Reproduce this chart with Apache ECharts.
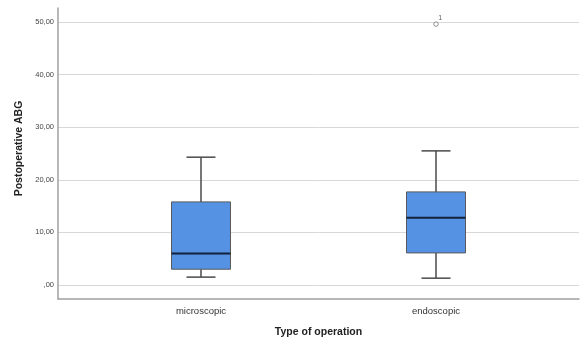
<!DOCTYPE html>
<html>
<head>
<meta charset="utf-8">
<script src="https://cdn.jsdelivr.net/npm/echarts@6/dist/echarts.min.js"></script>
<style>html,body{margin:0;padding:0;background:#fff;}#c{width:580px;height:338px;}</style>
</head>
<body>
<div id="c"></div>
<script>
var categories = ['microscopic', 'endoscopic'];
// [min whisker, Q1, median, Q3, max whisker]
var microscopicBox = [1.5, 3.0, 6.0, 15.8, 24.3];
var endoscopicBox = [1.3, 6.1, 12.8, 17.7, 25.5];
var outliers = [[1, 49.6, '1']];
var yTicks = [0, 10, 20, 30, 40, 50];

var boxes = [microscopicBox, endoscopicBox];
var boxData = boxes.map(function (b, i) { return [i].concat(b); });

function fmtY(v) {
  var s = v.toFixed(2).replace('.', ',');
  if (s.indexOf('0,') === 0) s = s.slice(1);
  return s;
}

var chart = echarts.init(document.getElementById('c'), null, { renderer: 'canvas' });
chart.setOption({
  animation: false,
  backgroundColor: '#fff',
  grid: { left: 58, right: 1, top: 8, bottom: 39, outerBoundsMode: 'none', containLabel: false },
  xAxis: {
    type: 'value',
    min: -0.6085,
    max: 1.6085,
    name: 'Type of operation',
    nameLocation: 'middle',
    nameGap: 28,
    nameTextStyle: { fontFamily: 'Liberation Sans', fontWeight: 'bold', fontSize: 10.5, color: '#222' },
    axisLine: { show: true, onZero: false, lineStyle: { color: '#a0a0a0', width: 1.5 } },
    axisTick: { show: false, customValues: [0, 1] },
    splitLine: { show: false },
    axisLabel: {
      customValues: [0, 1],
      formatter: function (v) { return categories[Math.round(v)]; },
      fontFamily: 'Liberation Sans', fontSize: 9.5, color: '#333', margin: 7
    }
  },
  yAxis: {
    type: 'value',
    min: -2.66,
    max: 52.66,
    name: 'Postoperative ABG',
    nameLocation: 'middle',
    nameGap: 28,
    nameTextStyle: { fontFamily: 'Liberation Sans', fontWeight: 'bold', fontSize: 10.5, color: '#222', padding: [0, 0, 0, 10] },
    axisLine: { show: true, onZero: false, lineStyle: { color: '#a0a0a0', width: 1.5 } },
    axisTick: { show: false, customValues: yTicks },
    axisLabel: {
      customValues: yTicks,
      formatter: fmtY,
      fontFamily: 'Liberation Sans', fontSize: 7.5, color: '#444', margin: 4
    },
    splitLine: { show: true, lineStyle: { color: '#d8d8d8', width: 1 } }
  },
  series: [
    {
      type: 'custom',
      data: boxData,
      encode: { x: 0, y: [1, 2, 3, 4, 5] },
      renderItem: function (params, api) {
        var x = api.value(0);
        var halfBox = 0.1255, halfCap = 0.0617;
        var pLo = api.coord([x, api.value(1)]);
        var pQ1 = api.coord([x, api.value(2)]);
        var pMed = api.coord([x, api.value(3)]);
        var pQ3 = api.coord([x, api.value(4)]);
        var pHi = api.coord([x, api.value(5)]);
        var xl = api.coord([x - halfBox, 0])[0];
        var xr = api.coord([x + halfBox, 0])[0];
        var cl = api.coord([x - halfCap, 0])[0];
        var cr = api.coord([x + halfCap, 0])[0];
        var wStyle = { stroke: '#4a4a4a', lineWidth: 1.5 };
        return {
          type: 'group',
          children: [
            { type: 'line', shape: { x1: pQ3[0], y1: pQ3[1], x2: pHi[0], y2: pHi[1] }, style: wStyle },
            { type: 'line', shape: { x1: pQ1[0], y1: pQ1[1], x2: pLo[0], y2: pLo[1] }, style: wStyle },
            { type: 'line', shape: { x1: cl, y1: pHi[1], x2: cr, y2: pHi[1] }, style: wStyle },
            { type: 'line', shape: { x1: cl, y1: pLo[1], x2: cr, y2: pLo[1] }, style: wStyle },
            { type: 'rect', shape: { x: xl, y: pQ3[1], width: xr - xl, height: pQ1[1] - pQ3[1] },
              style: { fill: '#5592e4', stroke: '#5a5a5a', lineWidth: 1 } },
            { type: 'line', shape: { x1: xl, y1: pMed[1], x2: xr, y2: pMed[1] },
              style: { stroke: '#14213a', lineWidth: 2 } }
          ]
        };
      }
    },
    {
      type: 'scatter',
      data: outliers.map(function (o) { return { value: [o[0], o[1]], name: o[2] }; }),
      symbol: 'circle',
      symbolSize: 4.5,
      itemStyle: { color: '#fff', borderColor: '#555', borderWidth: 0.8 },
      label: {
        show: true,
        formatter: '{b}',
        position: [5, -7],
        fontFamily: 'Liberation Sans', fontSize: 7, color: '#333'
      }
    }
  ]
});
</script>
</body>
</html>
